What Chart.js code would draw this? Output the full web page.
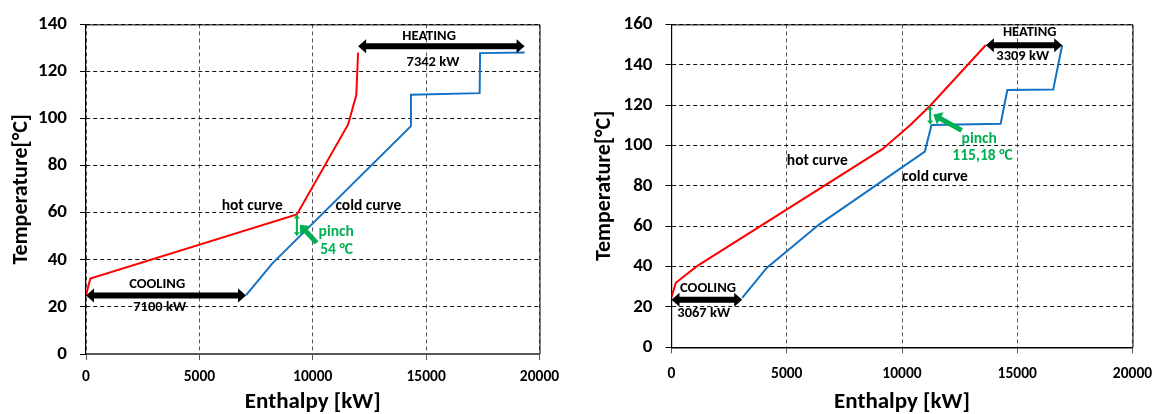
<!DOCTYPE html>
<html>
<head>
<meta charset="utf-8">
<script src="https://cdn.jsdelivr.net/npm/chart.js@4.4.0/dist/chart.umd.min.js"></script>
<style>
  html, body { margin: 0; padding: 0; background: #fff; }
  #wrap { position: relative; width: 1166px; height: 414px; overflow: hidden; }
  canvas { position: absolute; top: 0; }
</style>
</head>
<body>
<div id="wrap">
  <canvas id="graficoA" width="580" height="414" style="left:0"></canvas>
  <canvas id="graficoB" width="583" height="414" style="left:583px"></canvas>
</div>
<script>
// === DADOS ===
const enthalpyTicks = [0, 5000, 10000, 15000, 20000];
const tempTicksA = [0, 20, 40, 60, 80, 100, 120, 140];
const tempTicksB = [0, 20, 40, 60, 80, 100, 120, 140, 160];

// gráfico da esquerda
const hotA_H = [0, 190, 9300, 11560, 11920, 12000];
const hotA_T = [25, 32, 59.3, 97.5, 110, 128];
const coldA_H = [7060, 8220, 14330, 14330, 17360, 17380, 19342];
const coldA_T = [25, 38.5, 96.8, 110.1, 110.8, 127.8, 128.1];

// gráfico da direita
const hotB_H = [0, 190, 1090, 9160, 10350, 11220, 13640];
const hotB_T = [25, 32, 40.1, 98.3, 110, 119.7, 149.8];
const coldB_H = [3067, 4130, 6400, 10990, 11280, 14280, 14570, 16560, 16949];
const coldB_T = [24.5, 39.3, 60.8, 97, 110.2, 110.8, 127.5, 127.7, 149.8];

const coolingDuty = ["7100 kW", "3067 kW"];
const heatingDuty = ["7342 kW", "3309 kW"];
const pinchTemp = ["54 °C", "115,18 °C"];

Chart.defaults.font.family = "Carlito, Lato, 'Open Sans', sans-serif";
Chart.defaults.color = "#000";

const pares = (hs, ts) => hs.map((h, i) => ({ x: h, y: ts[i] }));
const VERDE = "#00b050";

// === desenha seta (linha grossa com ponta) ===
function seta(ctx, x1, y1, x2, y2, a) {
  const ang = Math.atan2(y2 - y1, x2 - x1);
  const cos = Math.cos(ang), sin = Math.sin(ang);
  const sx1 = a.both ? x1 + cos * a.head * 0.8 : x1;
  const sy1 = a.both ? y1 + sin * a.head * 0.8 : y1;
  ctx.strokeStyle = a.color;
  ctx.fillStyle = a.color;
  ctx.lineWidth = a.width;
  ctx.beginPath();
  ctx.moveTo(sx1, sy1);
  ctx.lineTo(x2 - cos * a.head * 0.8, y2 - sin * a.head * 0.8);
  ctx.stroke();
  const ponta = (px, py, c, s) => {
    ctx.beginPath();
    ctx.moveTo(px, py);
    ctx.lineTo(px - c * a.head - s * a.half, py - s * a.head + c * a.half);
    ctx.lineTo(px - c * a.head + s * a.half, py - s * a.head - c * a.half);
    ctx.closePath();
    ctx.fill();
  };
  ponta(x2, y2, cos, sin);
  if (a.both) ponta(x1, y1, -cos, -sin);
}

const notas = {
  id: "notas",
  afterDatasetsDraw(chart, args, opts) {
    const { ctx, chartArea: ca, scales: { x, y } } = chart;
    ctx.save();
    // moldura superior e direita
    ctx.strokeStyle = "#000";
    ctx.lineWidth = 1;
    ctx.setLineDash([]);
    ctx.beginPath();
    ctx.moveTo(ca.left, ca.top + 0.5);
    ctx.lineTo(ca.right + 0.5, ca.top + 0.5);
    ctx.lineTo(ca.right + 0.5, ca.bottom);
    ctx.stroke();

    (opts.setas || []).forEach((a) => {
      seta(ctx, x.getPixelForValue(a.x1), y.getPixelForValue(a.y1),
        x.getPixelForValue(a.x2), y.getPixelForValue(a.y2), a);
    });
    ctx.textAlign = "center";
    ctx.textBaseline = "middle";
    (opts.textos || []).forEach((t) => {
      ctx.font = "bold " + t.size + "px " + Chart.defaults.font.family;
      ctx.fillStyle = t.color || "#000";
      ctx.fillText(t.text, x.getPixelForValue(t.x), y.getPixelForValue(t.y));
    });
    ctx.restore();
  },
};

function criarGrafico(id, o) {
  return new Chart(document.getElementById(id), {
    type: "scatter",
    data: {
      datasets: [
        { data: pares(o.hotH, o.hotT), borderColor: "#ff0000" },
        { data: pares(o.coldH, o.coldT), borderColor: "#1372c4" },
      ].map((d) => ({ ...d, showLine: true, borderWidth: 2, pointRadius: 0, tension: 0 })),
    },
    options: {
      responsive: false,
      animation: false,
      events: [],
      layout: { padding: { left: 0, top: o.top, right: o.right, bottom: 0 } },
      plugins: {
        legend: { display: false },
        tooltip: { enabled: false },
        notas: { setas: o.setas, textos: o.textos },
      },
      scales: {
        x: {
          type: "linear",
          min: 0,
          max: 20000,
          afterFit: (s) => { s.height = o.xH; },
          afterBuildTicks: (s) => { s.ticks = enthalpyTicks.map((v) => ({ value: v })); },
          ticks: {
            font: { size: 15.5, weight: "bold" }, padding: o.xPad, maxRotation: 0,
            callback: (v) => String(v),
          },
          grid: { color: "#555", tickLength: 6, tickColor: "#555", tickBorderDash: [] },
          border: { color: o.xBorder, width: o.xBorderW, dash: [4, 3] },
          title: {
            display: true, text: "Enthalpy [kW]",
            font: { size: 23, weight: "bold", lineHeight: 1 },
            padding: { top: 0, bottom: 0 },
          },
        },
        y: {
          min: 0,
          max: o.yMax,
          afterFit: (s) => { s.width = o.yW; },
          afterBuildTicks: (s) => { s.ticks = o.yTicks.map((v) => ({ value: v })); },
          ticks: { font: { size: 19, weight: "bold" }, padding: 13 },
          grid: { color: "#111", tickLength: 6, tickColor: "#000", tickBorderDash: [] },
          border: { color: "#000", width: 1.2, dash: [4, 3] },
          title: {
            display: true, text: "Temperature[°C]",
            font: { size: 22, weight: "bold", lineHeight: 1 },
            padding: { top: 10, bottom: 0 },
          },
        },
      },
    },
    plugins: [notas],
  });
}

// === GRÁFICO ESQUERDA ===
criarGrafico("graficoA", {
  hotH: hotA_H, hotT: hotA_T, coldH: coldA_H, coldT: coldA_T,
  yMax: 140, yTicks: tempTicksA,
  top: 20.7, right: 40.5, xH: 60, yW: 86, xPad: 7.4, xBorder: "#595959", xBorderW: 2,
  setas: [
    { x1: 0, y1: 24.8, x2: coldA_H[0], y2: 24.8, both: true, color: "#000", width: 6, head: 8, half: 7 },
    { x1: hotA_H[hotA_H.length - 1], y1: 130.7, x2: coldA_H[coldA_H.length - 1], y2: 130.7, both: true, color: "#000", width: 6, head: 8, half: 7 },
    { x1: 9300, y1: 50, x2: 9300, y2: 59.3, both: true, color: VERDE, width: 2, head: 4, half: 3 },
    { x1: 10170, y1: 47.2, x2: 9433, y2: 54.9, both: false, color: VERDE, width: 5, head: 8, half: 7 },
  ],
  textos: [
    { text: "hot curve", x: 7330, y: 62.6, size: 15.5 },
    { text: "cold curve", x: 12450, y: 62.6, size: 15.5 },
    { text: "pinch", x: 11035, y: 51.7, size: 15.5, color: VERDE },
    { text: pinchTemp[0], x: 11050, y: 44.1, size: 15.5, color: VERDE },
    { text: "COOLING", x: 3138, y: 29.4, size: 14.5 },
    { text: coolingDuty[0], x: 3248, y: 19.6, size: 14.5 },
    { text: "HEATING", x: 15133, y: 135.1, size: 14.5 },
    { text: heatingDuty[0], x: 15300, y: 124, size: 14.5 },
  ],
});

// === GRÁFICO DIREITA ===
criarGrafico("graficoB", {
  hotH: hotB_H, hotT: hotB_T, coldH: coldB_H, coldT: coldB_T,
  yMax: 160, yTicks: tempTicksB,
  top: 19.3, right: 33.5, xH: 66.7, yW: 88.5, xPad: 11.4, xBorder: "#000", xBorderW: 1.5,
  setas: [
    { x1: 0, y1: 23.6, x2: coldB_H[0], y2: 23.6, both: true, color: "#000", width: 6, head: 8, half: 7 },
    { x1: hotB_H[hotB_H.length - 1], y1: 149.7, x2: coldB_H[coldB_H.length - 1], y2: 149.7, both: true, color: "#000", width: 6, head: 8, half: 7 },
    { x1: 11220, y1: 110.4, x2: 11220, y2: 119.7, both: true, color: VERDE, width: 2, head: 4, half: 3 },
    { x1: 12590, y1: 107.5, x2: 11358, y2: 115.3, both: false, color: VERDE, width: 5, head: 8, half: 7 },
  ],
  textos: [
    { text: "hot curve", x: 6326, y: 92.1, size: 15.5 },
    { text: "cold curve", x: 11432, y: 84.4, size: 15.5 },
    { text: "pinch", x: 13349, y: 103.4, size: 15.5, color: VERDE },
    { text: pinchTemp[1], x: 13492, y: 94.8, size: 15.5, color: VERDE },
    { text: "COOLING", x: 1584, y: 29.2, size: 14.5 },
    { text: coolingDuty[1], x: 1397, y: 17, size: 14.5 },
    { text: "HEATING", x: 15540, y: 155.9, size: 14.5 },
    { text: heatingDuty[1], x: 15236, y: 144, size: 14.5 },
  ],
});
</script>
</body>
</html>
